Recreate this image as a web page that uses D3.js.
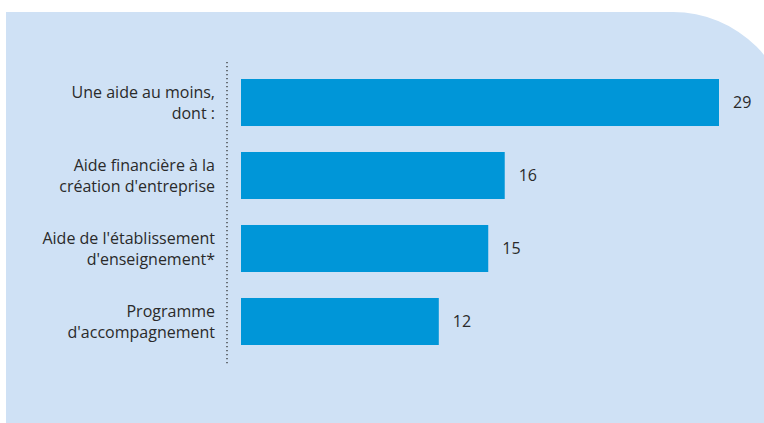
<!DOCTYPE html>
<html><head><meta charset="utf-8">
<script src="https://cdn.jsdelivr.net/npm/d3@7"></script>
<style>html,body{margin:0;padding:0;background:#fff;}svg{display:block;}</style>
</head><body>
<svg id="c" width="764" height="423"></svg>
<script>
const categories = [
  ["Une aide au moins,", "dont :"],
  ["Aide financière à la", "création d'entreprise"],
  ["Aide de l'établissement", "d'enseignement*"],
  ["Programme", "d'accompagnement"]
];
const values = [29, 16, 15, 12];

const svg = d3.select("#c");
const font = "'Open Sans', 'DejaVu Sans', sans-serif";

// background panel with rounded top-right corner
const px = 6, py = 12, pr = 791, pb = 440, r = 118;
svg.append("path")
  .attr("d", `M${px},${py} H${pr - r} A${r},${r} 0 0 1 ${pr},${py + r} V${pb} H${px} Z`)
  .attr("fill", "#cfe1f5");

const x = d3.scaleLinear().domain([0, 29]).range([241, 719]);
const y = d3.scaleBand().domain(d3.range(categories.length)).range([79, 345]).paddingInner(0.356).paddingOuter(0);

// dotted axis line
svg.append("line")
  .attr("x1", 227).attr("x2", 227).attr("y1", 62).attr("y2", 365)
  .attr("stroke", "#333").attr("stroke-width", 1.3).attr("stroke-dasharray", "1.3,2.7");

svg.selectAll("rect.bar").data(values).join("rect")
  .attr("class", "bar")
  .attr("x", x(0)).attr("y", (d, i) => y(i))
  .attr("width", d => x(d) - x(0)).attr("height", y.bandwidth())
  .attr("fill", "#0096d8");

svg.selectAll("text.val").data(values).join("text")
  .attr("class", "val")
  .attr("x", d => x(d) + 14).attr("y", (d, i) => y(i) + y.bandwidth() / 2)
  .attr("dy", "0.35em")
  .attr("font-family", font).attr("font-size", 16).attr("fill", "#2a2a2a")
  .text(d => d);

const lab = svg.selectAll("text.cat").data(categories).join("text")
  .attr("class", "cat")
  .attr("text-anchor", "end")
  .attr("font-family", font).attr("font-size", 16).attr("fill", "#2a2a2a");
lab.selectAll("tspan").data(d => d).join("tspan")
  .attr("x", 215)
  .attr("y", function(d, j) {
    const i = categories.indexOf(d3.select(this.parentNode).datum());
    return y(i) + y.bandwidth() / 2 - 10.5 + j * 21;
  })
  .attr("dy", "0.35em")
  .text(d => d);
</script>
</body></html>
